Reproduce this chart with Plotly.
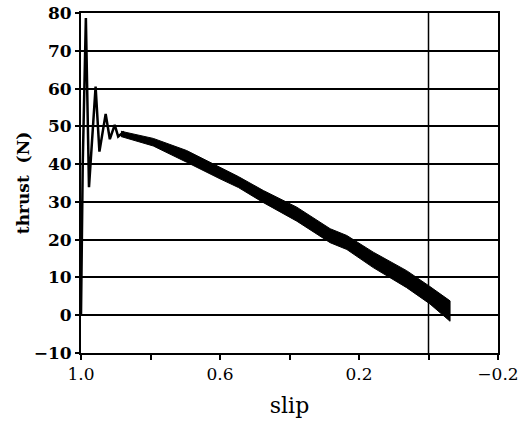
import plotly.graph_objects as go

# Initial transient (slip, thrust)
transient_slip = [1.0, 0.995, 0.986, 0.977, 0.958, 0.947, 0.929, 0.917, 0.903, 0.893, 0.876]
transient_thrust = [0.0, 40.0, 78.7, 33.9, 60.5, 43.3, 53.3, 46.6, 50.4, 47.3, 48.6]

# Oscillating band envelope (slip, upper, lower)
band_slip = [0.885, 0.792, 0.696, 0.600, 0.547, 0.475, 0.379, 0.283, 0.235, 0.159, 0.063, -0.004, -0.062]
band_upper = [48.7, 46.8, 43.6, 39.1, 36.7, 33.0, 28.6, 22.9, 21.1, 16.7, 11.8, 7.6, 3.8]
band_lower = [47.3, 44.8, 40.5, 36.1, 33.8, 29.8, 24.9, 19.2, 17.4, 12.6, 7.3, 3.0, -1.6]

x_tickvals = [1.0, 0.8, 0.6, 0.4, 0.2, 0.0, -0.2]
x_ticktext = ["1.0", "", "0.6", "", "0.2", "", "\u22120.2"]
y_tickvals = [-10, 0, 10, 20, 30, 40, 50, 60, 70, 80]
y_ticktext = ["\u221210", "0", "10", "20", "30", "40", "50", "60", "70", "80"]

serif = "DejaVu Serif, Liberation Serif, serif"

fig = go.Figure()
fig.add_trace(go.Scatter(
    x=band_slip + band_slip[::-1],
    y=band_upper + band_lower[::-1],
    fill="toself", fillcolor="black",
    line=dict(color="black", width=1),
    mode="lines", hoverinfo="skip", showlegend=False))
fig.add_trace(go.Scatter(
    x=transient_slip, y=transient_thrust,
    mode="lines", line=dict(color="black", width=2.5), showlegend=False))

fig.add_shape(type="line", xref="x", yref="paper", x0=0, x1=0, y0=0, y1=1,
              line=dict(color="black", width=1.5))

fig.update_layout(
    width=521, height=421,
    margin=dict(l=81, r=23, t=13, b=68),
    paper_bgcolor="white", plot_bgcolor="white",
    font=dict(family=serif, color="black"),
    xaxis=dict(range=[1.0, -0.2], tickvals=x_tickvals, ticktext=x_ticktext,
               ticks="outside", ticklen=5, tickwidth=2, tickcolor="black",
               showline=True, linecolor="black", linewidth=2, mirror=True,
               showgrid=False, zeroline=False, automargin=False,
               tickfont=dict(size=17, family=serif),
               title=dict(text="slip", font=dict(size=22, family=serif), standoff=14)),
    yaxis=dict(range=[-10, 80], tickvals=y_tickvals, ticktext=y_ticktext,
               ticks="outside", ticklen=4, tickwidth=2, tickcolor="black",
               showline=True, linecolor="black", linewidth=2, mirror=True,
               showgrid=True, gridcolor="black", gridwidth=1.5, zeroline=False,
               automargin=False,
               tickfont=dict(size=17, family=serif, weight="bold"),
               title=dict(text="thrust  (N)", font=dict(size=17, family=serif, weight="bold"), standoff=0)),
)

fig.write_html("out.html")
